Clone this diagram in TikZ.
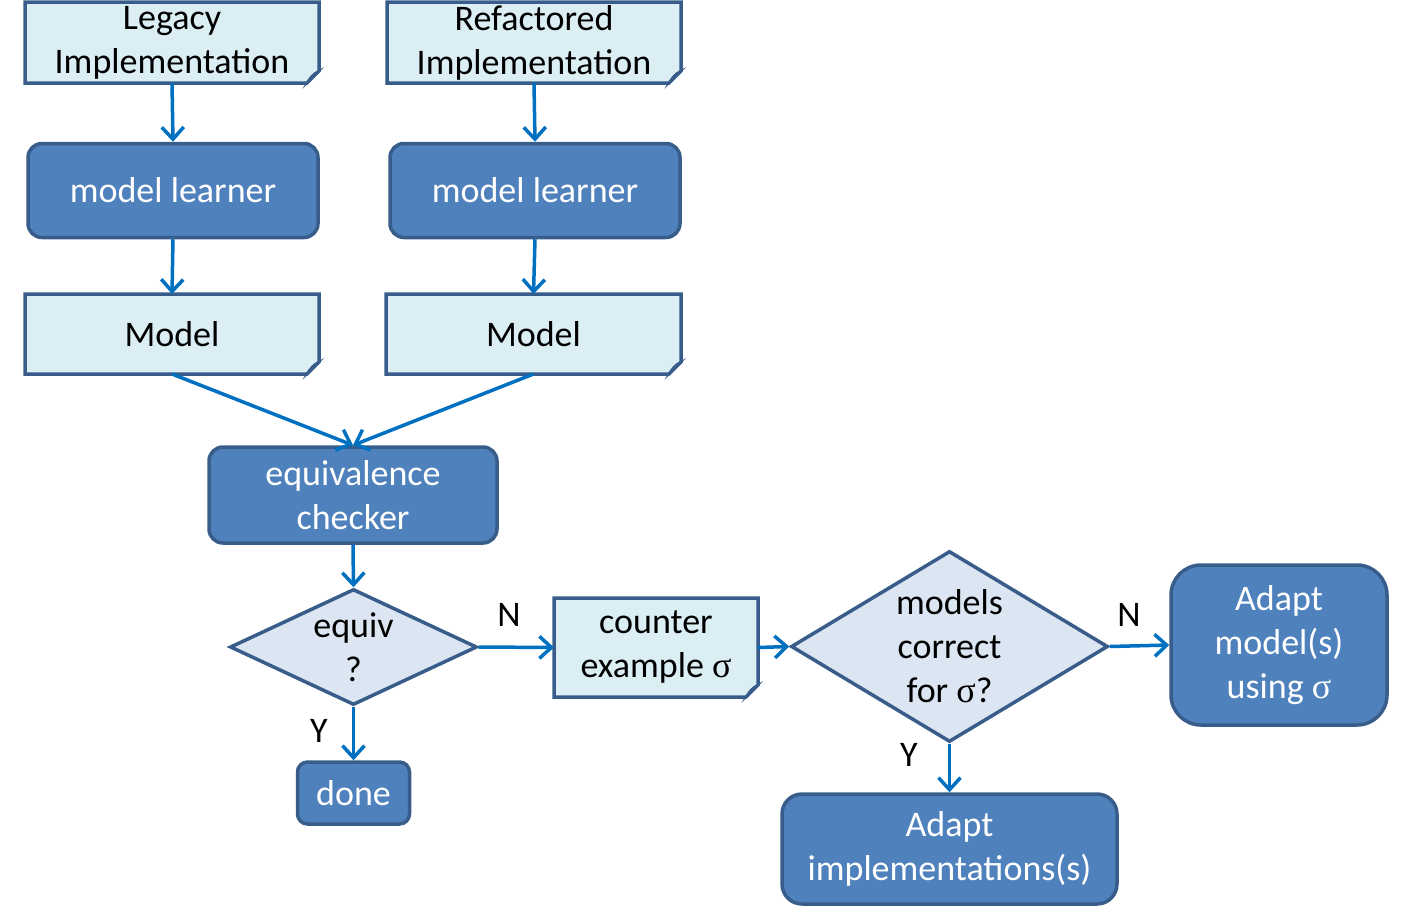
\documentclass[tikz,border=0pt]{standalone}
\usepackage{fontspec}
\setmainfont{Carlito}
\newfontfamily\sigfont{Liberation Serif}
\newcommand{\sig}{{\sigfont σ}}
\usetikzlibrary{positioning,shapes.geometric,arrows.meta,backgrounds}
\definecolor{boxblue}{HTML}{4F81BD}
\definecolor{boxedge}{HTML}{385D8A}
\definecolor{docfill}{HTML}{DBEEF4}
\definecolor{dmdfill}{HTML}{DCE6F2}
\definecolor{arrblue}{HTML}{0070C0}
\tikzset{
	proc/.style={draw=boxedge, fill=boxblue, line width=1.75pt, rounded corners=7pt, text=white, align=center, inner sep=0pt},
	doc/.style={align=center, inner sep=0pt, outer sep=0pt},
	docshape/.style={draw=boxedge, fill=docfill, line width=1.75pt},
	fold/.style={draw=boxedge, fill=boxedge!45!docfill, line width=1pt},
	dec/.style={diamond, draw=boxedge, fill=dmdfill, line width=1.75pt, align=center, inner sep=0pt},
	flow/.style={draw=arrblue, line width=1.75pt, -{Straight Barb[length=6pt,width=11pt]}},
}
\begin{document}
\begin{tikzpicture}[x=0.5pt,y=-0.5pt,every node/.style={font=\fontsize{18}{22}\selectfont}]
		\useasboundingbox (0,0) rectangle (1403,921);
		\node[doc, minimum width=147pt, minimum height=40.5pt] (leg) at (172,42.5) {Legacy\\Implementation};
		\node[doc, minimum width=147pt, minimum height=40.5pt] (ref) at (534,42.5) {Refactored\\Implementation};
		\node[proc, minimum width=145pt, minimum height=47pt] (ml1) at (173,190.5) {model learner};
		\node[proc, minimum width=145pt, minimum height=47pt] (ml2) at (535,190.5) {model learner};
		\node[doc, minimum width=147pt, minimum height=40pt] (m1) at (172,334) {Model};
		\node[doc, minimum width=147.5pt, minimum height=40pt] (m2) at (533.5,334) {Model};
		\node[proc, minimum width=144pt, minimum height=48pt] (eq) at (353,495) {equivalence\\checker};
		\node[dec, minimum width=123.5pt, minimum height=58pt, aspect=2.1] (equiv) at (353.5,647) {equiv\\?};
		\node[proc, minimum width=56pt, minimum height=31pt, rounded corners=5pt] (done) at (353.5,793) {done};
		\node[doc, minimum width=102pt, minimum height=49.5pt] (cex) at (656,647.5) {counter\\example \sig};
		\node[dec, minimum width=158.5pt, minimum height=95.5pt, aspect=1.66] (corr) at (949.5,646.5) {models\\correct\\for \sig?};
		\node[proc, minimum width=108pt, minimum height=80pt, rounded corners=15pt] (adm) at (1279,645) {Adapt\\model(s)\\using \sig};
		\node[proc, minimum width=167.5pt, minimum height=55pt, rounded corners=10pt] (adi) at (949.5,849) {Adapt\\implementations(s)};
		
		\node (n1) at (509,615) {N};
		\node (y1) at (319,731) {Y};
		\node (n2) at (1129,615) {N};
		\node (y2) at (909,755) {Y};
		
		\begin{scope}[on background layer]
			\foreach \n in {leg,ref,m1,m2,cex}
				\filldraw[docshape] (\n.north west) -- (\n.north east) -- ([yshift=6pt]\n.south east) -- ([xshift=-6pt]\n.south east) -- (\n.south west) -- cycle;
		\end{scope}
		\foreach \n in {leg,ref,m1,m2,cex}
			\filldraw[fold] ([yshift=6pt]\n.south east) -- ([xshift=-6pt]\n.south east) .. controls ([shift={(-5pt,2pt)}]\n.south east) and ([shift={(-3pt,5pt)}]\n.south east) .. cycle;
		
		\draw[flow] (leg.south) -- (ml1.north);
		\draw[flow] (ref.south) -- (ml2.north);
		\draw[flow] (ml1.south) -- (m1.north);
		\draw[flow] (ml2.south) -- (m2.north);
		\draw[flow] (m1.south) -- (eq.north);
		\draw[flow] (m2.south) -- (eq.north);
		\draw[flow] (eq.south) -- (equiv.north);
		\draw[flow] (equiv.east) -- (cex.west);
		\draw[flow] (equiv.south) -- (done.north);
		\draw[flow] (cex.east) -- (corr.west);
		\draw[flow] (corr.east) -- (adm.west);
		\draw[flow] (corr.south) -- (adi.north);
	\end{tikzpicture}
\end{document}
